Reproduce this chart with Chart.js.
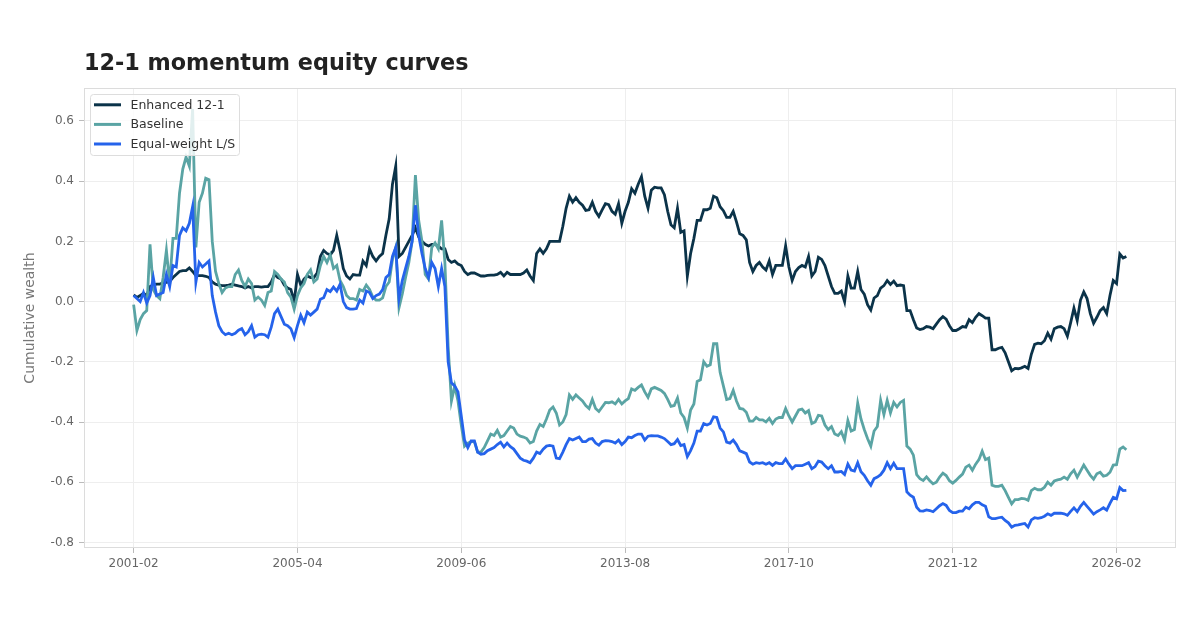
<!DOCTYPE html>
<html><head><meta charset="utf-8">
<script src="https://cdn.jsdelivr.net/npm/chart.js@4.4.1/dist/chart.umd.min.js"></script>
<style>html,body{margin:0;padding:0;background:#fff;}canvas{display:block;}</style>
</head><body>
<canvas id="c" width="1200" height="630"></canvas>
<script>
// ---- categories: monthly, 2001-02 .. 2026-05 ----
const START_YEAR = 2001, START_MONTH = 2, N_MONTHS = 304;
const months = [];
for (let k = 0; k < N_MONTHS; k++) {
  const m0 = START_MONTH - 1 + k;
  const y = START_YEAR + Math.floor(m0 / 12);
  const m = (m0 % 12) + 1;
  months.push(y + '-' + String(m).padStart(2, '0'));
}
const xTickIndices = [0, 50, 100, 150, 200, 250, 300];
const yTickValues = [-0.8, -0.6, -0.4, -0.2, 0.0, 0.2, 0.4, 0.6];

const titleText = '12-1 momentum equity curves';
const yAxisTitle = 'Cumulative wealth';
const seriesNames = ['Enhanced 12-1', 'Baseline', 'Equal-weight L/S'];

const enhanced = [
0.022,0.014,0.02,0.028,0.02,0.05,0.055,0.058,0.058,0.062,
0.064,0.067,0.08,0.09,0.1,0.103,0.103,0.112,0.1,0.086,
0.086,0.086,0.084,0.08,0.065,0.058,0.055,0.053,0.053,0.055,
0.058,0.055,0.052,0.05,0.045,0.05,0.045,0.05,0.05,0.048,
0.05,0.05,0.065,0.09,0.08,0.075,0.055,0.045,0.04,0.0,
0.09,0.055,0.075,0.085,0.08,0.08,0.095,0.15,0.17,0.16,
0.155,0.17,0.22,0.17,0.11,0.085,0.075,0.09,0.088,0.088,
0.135,0.12,0.175,0.15,0.135,0.15,0.16,0.22,0.275,0.39,
0.45,0.15,0.16,0.18,0.2,0.22,0.245,0.215,0.2,0.19,
0.185,0.19,0.19,0.185,0.175,0.175,0.14,0.13,0.135,0.125,
0.12,0.1,0.09,0.095,0.095,0.09,0.085,0.085,0.087,0.088,
0.088,0.09,0.097,0.085,0.097,0.09,0.09,0.09,0.09,0.095,
0.105,0.085,0.07,0.16,0.175,0.16,0.175,0.2,0.2,0.2,
0.2,0.25,0.31,0.35,0.33,0.345,0.33,0.32,0.303,0.305,
0.33,0.3,0.283,0.305,0.325,0.322,0.3,0.29,0.325,0.26,
0.3,0.33,0.375,0.36,0.39,0.415,0.35,0.31,0.37,0.38,
0.378,0.378,0.355,0.3,0.255,0.245,0.31,0.23,0.235,0.085,
0.16,0.21,0.27,0.27,0.305,0.305,0.31,0.35,0.345,0.315,
0.302,0.28,0.28,0.3,0.265,0.225,0.22,0.205,0.13,0.1,
0.12,0.13,0.115,0.105,0.135,0.09,0.12,0.12,0.12,0.185,
0.115,0.07,0.1,0.113,0.12,0.115,0.15,0.085,0.1,0.147,
0.14,0.12,0.085,0.05,0.027,0.027,0.035,0.0,0.085,0.045,
0.045,0.1,0.04,0.025,-0.01,-0.028,0.012,0.02,0.045,0.053,
0.07,0.057,0.068,0.053,0.055,0.053,-0.03,-0.03,-0.06,-0.088,
-0.093,-0.09,-0.083,-0.085,-0.09,-0.075,-0.06,-0.05,-0.058,-0.08,
-0.096,-0.096,-0.09,-0.083,-0.085,-0.06,-0.07,-0.052,-0.04,-0.047,
-0.055,-0.055,-0.16,-0.16,-0.155,-0.152,-0.17,-0.2,-0.23,-0.222,
-0.223,-0.22,-0.215,-0.222,-0.175,-0.142,-0.138,-0.14,-0.13,-0.105,
-0.125,-0.09,-0.085,-0.083,-0.09,-0.115,-0.07,-0.022,-0.063,0.005,
0.032,0.01,-0.04,-0.072,-0.052,-0.03,-0.02,-0.04,0.02,0.07,
0.06,0.158,0.145,0.15
];

const baseline = [
-0.01,-0.096,-0.06,-0.04,-0.03,0.19,0.04,0.02,0.01,0.08,
0.17,0.06,0.21,0.21,0.36,0.44,0.48,0.45,0.64,0.18,
0.33,0.36,0.41,0.405,0.2,0.1,0.06,0.03,0.045,0.05,
0.05,0.09,0.105,0.07,0.05,0.075,0.06,0.005,0.015,0.005,
-0.013,0.03,0.035,0.1,0.09,0.075,0.065,0.03,0.015,-0.025,
0.02,0.045,0.06,0.09,0.105,0.065,0.075,0.12,0.15,0.13,
0.155,0.11,0.12,0.07,0.05,0.02,0.01,0.01,0.005,0.04,
0.035,0.055,0.04,0.015,0.005,0.005,0.012,0.05,0.065,0.14,
0.18,-0.02,0.025,0.08,0.13,0.2,0.42,0.27,0.2,0.09,
0.075,0.18,0.195,0.175,0.27,0.13,-0.15,-0.33,-0.28,-0.33,
-0.41,-0.48,-0.47,-0.465,-0.465,-0.5,-0.5,-0.485,-0.463,-0.44,
-0.445,-0.428,-0.45,-0.445,-0.43,-0.415,-0.42,-0.44,-0.447,-0.45,
-0.455,-0.47,-0.465,-0.43,-0.408,-0.415,-0.39,-0.36,-0.35,-0.37,
-0.41,-0.4,-0.375,-0.31,-0.325,-0.31,-0.32,-0.33,-0.345,-0.355,
-0.325,-0.355,-0.365,-0.35,-0.335,-0.336,-0.333,-0.34,-0.325,-0.34,
-0.33,-0.322,-0.29,-0.295,-0.285,-0.277,-0.3,-0.318,-0.29,-0.285,
-0.29,-0.295,-0.305,-0.325,-0.348,-0.345,-0.32,-0.37,-0.385,-0.42,
-0.36,-0.34,-0.265,-0.26,-0.2,-0.215,-0.21,-0.14,-0.14,-0.235,
-0.28,-0.325,-0.322,-0.295,-0.33,-0.355,-0.357,-0.368,-0.397,-0.397,
-0.385,-0.393,-0.393,-0.4,-0.388,-0.405,-0.39,-0.385,-0.385,-0.355,
-0.38,-0.4,-0.38,-0.36,-0.357,-0.37,-0.362,-0.405,-0.4,-0.378,
-0.38,-0.41,-0.425,-0.415,-0.44,-0.445,-0.432,-0.46,-0.395,-0.43,
-0.425,-0.337,-0.39,-0.425,-0.455,-0.48,-0.43,-0.415,-0.328,-0.375,
-0.328,-0.37,-0.335,-0.35,-0.335,-0.328,-0.48,-0.49,-0.51,-0.575,
-0.588,-0.594,-0.582,-0.595,-0.605,-0.6,-0.583,-0.57,-0.578,-0.595,
-0.603,-0.594,-0.583,-0.573,-0.55,-0.543,-0.56,-0.54,-0.525,-0.497,
-0.525,-0.52,-0.61,-0.614,-0.614,-0.61,-0.628,-0.65,-0.672,-0.658,
-0.658,-0.654,-0.655,-0.66,-0.628,-0.62,-0.625,-0.625,-0.617,-0.6,
-0.61,-0.596,-0.592,-0.59,-0.583,-0.59,-0.572,-0.56,-0.583,-0.563,
-0.543,-0.56,-0.577,-0.59,-0.572,-0.567,-0.58,-0.577,-0.567,-0.543,
-0.542,-0.49,-0.483,-0.492
];

const equalWeight = [
0.02,0.01,0.0,0.03,-0.005,0.02,0.08,0.02,0.025,0.03,
0.09,0.05,0.12,0.115,0.22,0.245,0.235,0.26,0.315,0.065,
0.13,0.115,0.125,0.135,0.02,-0.035,-0.08,-0.1,-0.11,-0.105,
-0.11,-0.105,-0.095,-0.09,-0.11,-0.1,-0.08,-0.118,-0.11,-0.108,
-0.11,-0.118,-0.085,-0.04,-0.025,-0.05,-0.075,-0.08,-0.09,-0.12,
-0.08,-0.045,-0.07,-0.035,-0.045,-0.035,-0.025,0.008,0.013,0.04,
0.033,0.048,0.035,0.058,0.0,-0.02,-0.025,-0.025,-0.023,0.005,
-0.005,0.035,0.03,0.01,0.02,0.025,0.04,0.08,0.09,0.15,
0.18,0.01,0.07,0.11,0.15,0.2,0.32,0.22,0.16,0.11,
0.08,0.13,0.11,0.05,0.11,0.05,-0.2,-0.27,-0.28,-0.3,
-0.38,-0.46,-0.485,-0.463,-0.463,-0.5,-0.507,-0.505,-0.495,-0.49,
-0.485,-0.475,-0.467,-0.483,-0.47,-0.482,-0.49,-0.505,-0.52,-0.527,
-0.53,-0.535,-0.52,-0.5,-0.505,-0.49,-0.48,-0.478,-0.48,-0.52,
-0.522,-0.5,-0.475,-0.455,-0.46,-0.455,-0.45,-0.465,-0.465,-0.457,
-0.455,-0.47,-0.477,-0.465,-0.462,-0.463,-0.465,-0.47,-0.46,-0.475,
-0.465,-0.45,-0.452,-0.445,-0.44,-0.44,-0.46,-0.447,-0.445,-0.446,
-0.446,-0.45,-0.455,-0.465,-0.475,-0.472,-0.458,-0.478,-0.475,-0.515,
-0.495,-0.47,-0.43,-0.43,-0.405,-0.41,-0.405,-0.383,-0.385,-0.42,
-0.433,-0.467,-0.47,-0.46,-0.475,-0.496,-0.5,-0.505,-0.533,-0.54,
-0.535,-0.537,-0.535,-0.54,-0.535,-0.544,-0.535,-0.538,-0.538,-0.523,
-0.54,-0.555,-0.545,-0.545,-0.545,-0.54,-0.535,-0.555,-0.548,-0.53,
-0.533,-0.545,-0.555,-0.545,-0.566,-0.566,-0.564,-0.574,-0.54,-0.56,
-0.563,-0.535,-0.565,-0.577,-0.595,-0.61,-0.588,-0.583,-0.575,-0.56,
-0.535,-0.555,-0.537,-0.555,-0.555,-0.555,-0.632,-0.643,-0.65,-0.683,
-0.695,-0.696,-0.692,-0.694,-0.698,-0.688,-0.678,-0.671,-0.677,-0.694,
-0.701,-0.701,-0.696,-0.696,-0.683,-0.688,-0.675,-0.667,-0.667,-0.675,
-0.68,-0.715,-0.721,-0.721,-0.718,-0.716,-0.727,-0.735,-0.749,-0.743,
-0.742,-0.739,-0.737,-0.749,-0.725,-0.718,-0.72,-0.718,-0.713,-0.705,
-0.71,-0.703,-0.703,-0.703,-0.705,-0.71,-0.697,-0.685,-0.698,-0.68,
-0.667,-0.68,-0.693,-0.706,-0.698,-0.692,-0.685,-0.693,-0.67,-0.65,
-0.655,-0.618,-0.628,-0.627
];

// ---- styles ----
const COLORS = ['#0b3349', '#5aa4a4', '#2563eb'];
const FONT = '"DejaVu Sans", "Liberation Sans", sans-serif';
const toXY = arr => arr.map((v, i) => ({ x: i, y: v }));

const framePlugin = {
  id: 'frame',
  beforeDatasetsDraw(chart) {
    const a = chart.chartArea, ctx = chart.ctx;
    ctx.save();
    ctx.strokeStyle = '#dcdcdc';
    ctx.lineWidth = 1;
    ctx.strokeRect(a.left + 0.5, a.top + 0.5, a.right - a.left - 1, a.bottom - a.top - 1);
    ctx.restore();
  }
};

const titlePlugin = {
  id: 'leftTitle',
  afterDraw(chart) {
    const ctx = chart.ctx;
    ctx.save();
    ctx.font = 'bold 22.3px ' + FONT;
    ctx.fillStyle = '#222222';
    ctx.textAlign = 'left';
    ctx.textBaseline = 'alphabetic';
    ctx.fillText(titleText, chart.chartArea.left, 69.5);
    ctx.restore();
  }
};

const legendPlugin = {
  id: 'insideLegend',
  afterDraw(chart) {
    const ctx = chart.ctx, a = chart.chartArea;
    const x0 = a.left + 6.5, y0 = a.top + 6.5, w = 149, h = 61, r = 3;
    ctx.save();
    ctx.beginPath();
    ctx.moveTo(x0 + r, y0);
    ctx.lineTo(x0 + w - r, y0); ctx.quadraticCurveTo(x0 + w, y0, x0 + w, y0 + r);
    ctx.lineTo(x0 + w, y0 + h - r); ctx.quadraticCurveTo(x0 + w, y0 + h, x0 + w - r, y0 + h);
    ctx.lineTo(x0 + r, y0 + h); ctx.quadraticCurveTo(x0, y0 + h, x0, y0 + h - r);
    ctx.lineTo(x0, y0 + r); ctx.quadraticCurveTo(x0, y0, x0 + r, y0);
    ctx.closePath();
    ctx.fillStyle = 'rgba(255,255,255,0.82)';
    ctx.fill();
    ctx.strokeStyle = '#dddddd';
    ctx.lineWidth = 1;
    ctx.stroke();
    ctx.font = '12.5px ' + FONT;
    ctx.textBaseline = 'middle';
    ctx.textAlign = 'left';
    chart.data.datasets.forEach((ds, k) => {
      const yy = a.top + 16.8 + k * 19.6;
      ctx.beginPath();
      ctx.moveTo(a.left + 10, yy);
      ctx.lineTo(a.left + 37, yy);
      ctx.strokeStyle = ds.borderColor;
      ctx.lineWidth = 3;
      ctx.stroke();
      ctx.fillStyle = '#333333';
      ctx.fillText(ds.label, a.left + 46.5, yy + 0.5);
    });
    ctx.restore();
  }
};

const seriesData = [enhanced, baseline, equalWeight];
new Chart(document.getElementById('c').getContext('2d'), {
  type: 'line',
  data: {
    datasets: seriesData.map((arr, k) => ({
      label: seriesNames[k],
      data: toXY(arr),
      borderColor: COLORS[k],
      backgroundColor: COLORS[k],
      borderWidth: 2.8,
      pointRadius: 0,
      tension: 0,
      fill: false,
      order: 3 - k
    }))
  },
  options: {
    responsive: false,
    animation: false,
    devicePixelRatio: 1,
    layout: { padding: { top: 88, right: 24, bottom: 0, left: 0 } },
    plugins: { legend: { display: false }, title: { display: false }, tooltip: { enabled: false } },
    scales: {
      x: {
        type: 'linear',
        min: -15.15,
        max: 318.15,
        afterBuildTicks: s => { s.ticks = xTickIndices.map(v => ({ value: v })); },
        afterFit: s => { s.height = 82; },
        ticks: {
          callback: v => months[v],
          font: { family: FONT, size: 12 },
          color: '#666666',
          padding: 4,
          maxRotation: 0,
          autoSkip: false
        },
        grid: { color: '#eeeeee', tickColor: '#bbbbbb', tickLength: 5, lineWidth: 1 },
        border: { display: false }
      },
      y: {
        min: -0.8185,
        max: 0.7095,
        afterBuildTicks: s => { s.ticks = yTickValues.map(v => ({ value: v })); },
        afterFit: s => { s.width = 84; },
        ticks: {
          callback: v => v.toFixed(1),
          font: { family: FONT, size: 12 },
          color: '#666666',
          padding: 5
        },
        grid: { color: '#eeeeee', tickColor: '#bbbbbb', tickLength: 5, lineWidth: 1 },
        border: { display: false },
        title: {
          display: true,
          text: yAxisTitle,
          font: { family: FONT, size: 14 },
          color: '#777777',
          padding: { top: 22, bottom: 0 }
        }
      }
    }
  },
  plugins: [framePlugin, titlePlugin, legendPlugin]
});
</script>
</body></html>
